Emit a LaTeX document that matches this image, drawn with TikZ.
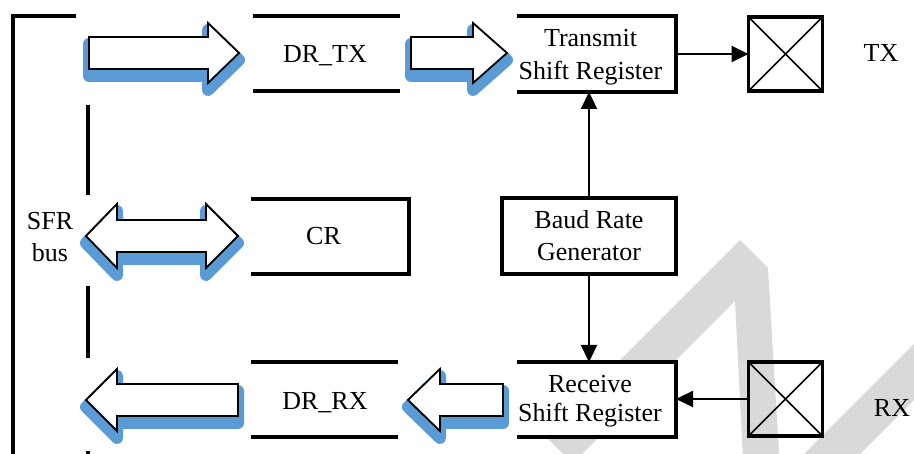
\documentclass[tikz,border=0pt]{standalone}
\usepackage{fontspec}
\setmainfont{Liberation Serif}
\usetikzlibrary{arrows.meta}
\definecolor{wmgray}{RGB}{217,217,217}
\definecolor{shblue}{RGB}{91,155,213}
\newcommand\blockArrow[1]{%
  \path[arrowshadow,shift={(0,7)}] #1 -- cycle;
  \path[arrowbody] #1 -- cycle;}
\begin{document}
\begin{tikzpicture}[x=1pt,y=-1pt,
  arrowshadow/.style={fill=shblue,draw=shblue,line width=12pt,line join=round},
  arrowbody/.style={fill=white,draw=black,line width=1.8pt,line join=miter},
  thickline/.style={line width=3.6pt},
  boxnode/.style={inner sep=0pt,outer sep=0pt},
  lbl/.style={font=\fontsize{26pt}{32pt}\selectfont,inner sep=0pt},
  conn/.style={line width=2.2pt,-{Triangle[length=17pt,width=16pt]}},
  pinbox/.style={draw,line width=3.6pt,minimum size=74pt,inner sep=0pt,outer sep=0pt},
  xline/.style={line width=1.6pt},
  wm/.style={fill=wmgray}]
\useasboundingbox (0,0) rectangle (914,454);

% watermark
\fill[wm] (544.5,435.5) -- (740,240) -- (768,268) -- (780,470) -- (743.5,470) -- (735,301) -- (572.5,463.5) -- cycle;
\fill[wm] (788,470) -- (930,328) -- (930,384) -- (844,470) -- cycle;

% SFR bus bracket and bus line
\draw[thickline] (76,16) -- (13,16) -- (13,460);
\draw[thickline] (88,105) -- (88,195) (88,286) -- (88,358) (88,451) -- (88,460);

% block arrows
\blockArrow{(89,37) -- (208,37) -- (208,23) -- (239,53) -- (208,83) -- (208,69) -- (89,69)}
\blockArrow{(411,37) -- (473,37) -- (473,23) -- (507,53) -- (473,83) -- (473,69) -- (411,69)}
\blockArrow{(86,236) -- (117,204) -- (117,220) -- (206,220) -- (206,204) -- (238,236) -- (206,268) -- (206,252) -- (117,252) -- (117,268)}
\blockArrow{(86,400) -- (117,369) -- (117,384) -- (238,384) -- (238,416) -- (117,416) -- (117,431)}
\blockArrow{(408,400) -- (440,369) -- (440,384) -- (503,384) -- (503,416) -- (440,416) -- (440,431)}

% boxes
\node[boxnode,minimum width=147pt,minimum height=75pt] (dtx) at (326.5,53.5) {};
\node[boxnode,minimum width=158pt,minimum height=75pt] (cr) at (330,236.5) {};
\node[boxnode,minimum width=147pt,minimum height=75pt] (drx) at (324.5,399.5) {};
\node[boxnode,minimum width=159pt,minimum height=76pt] (tsr) at (596.5,54) {};
\node[boxnode,fill=white,minimum width=159pt,minimum height=75pt] (rsr) at (596.5,399.5) {};
\node[boxnode,draw,fill=white,thickline,minimum width=174pt,minimum height=76pt,lbl,align=center] (brg) at (589,236) {Baud Rate\\Generator};

\draw[thickline] (dtx.north west) -- (dtx.north east) (dtx.south west) -- (dtx.south east);
\draw[thickline] (cr.north west) -- (cr.north east) -- (cr.south east) -- (cr.south west);
\draw[thickline] (drx.north west) -- (drx.north east) (drx.south west) -- (drx.south east);
\draw[thickline] (tsr.north west) -- (tsr.north east) -- (tsr.south east) -- (tsr.south west);
\draw[thickline] (rsr.north west) -- (rsr.north east) -- (rsr.south east) -- (rsr.south west);

% pins
\node[pinbox] (tpin) at (785.5,54) {};
\draw[xline] (tpin.north west) -- (tpin.south east) (tpin.north east) -- (tpin.south west);
\node[pinbox] (rpin) at (785.5,399) {};
\draw[xline] (rpin.north west) -- (rpin.south east) (rpin.north east) -- (rpin.south west);

% connectors
\draw[conn] (tsr.east) -- (tpin.west);
\draw[conn] (rpin.west) -- (rpin.west -| rsr.east);
\draw[conn] (brg.north) -- (brg.north |- tsr.south);
\draw[conn] (brg.south) -- (brg.south |- rsr.north);

% labels
\node[lbl,anchor=base] (dtxlabel) at (325,62.7) {DR\_TX};
\node[lbl,anchor=base] (crlabel) at (323.5,245) {CR};
\node[lbl,anchor=base] (drxlabel) at (325,409.3) {DR\_RX};
\node[lbl,align=center] (sfr) at (50,237.3) {SFR\\bus};
\node[lbl,anchor=base] (txlabel) at (881,61.7) {TX};
\node[lbl,anchor=base] (rxlabel) at (892,416.7) {RX};
\node[lbl,align=center,font=\fontsize{26pt}{33pt}\selectfont] (tsrtext) at (590.5,57.4) {Transmit\\Shift Register};
\node[lbl,align=center,font=\fontsize{26pt}{28.5pt}\selectfont] (rsrtext) at (590,401.2) {Receive\\Shift Register};
\end{tikzpicture}
\end{document}
